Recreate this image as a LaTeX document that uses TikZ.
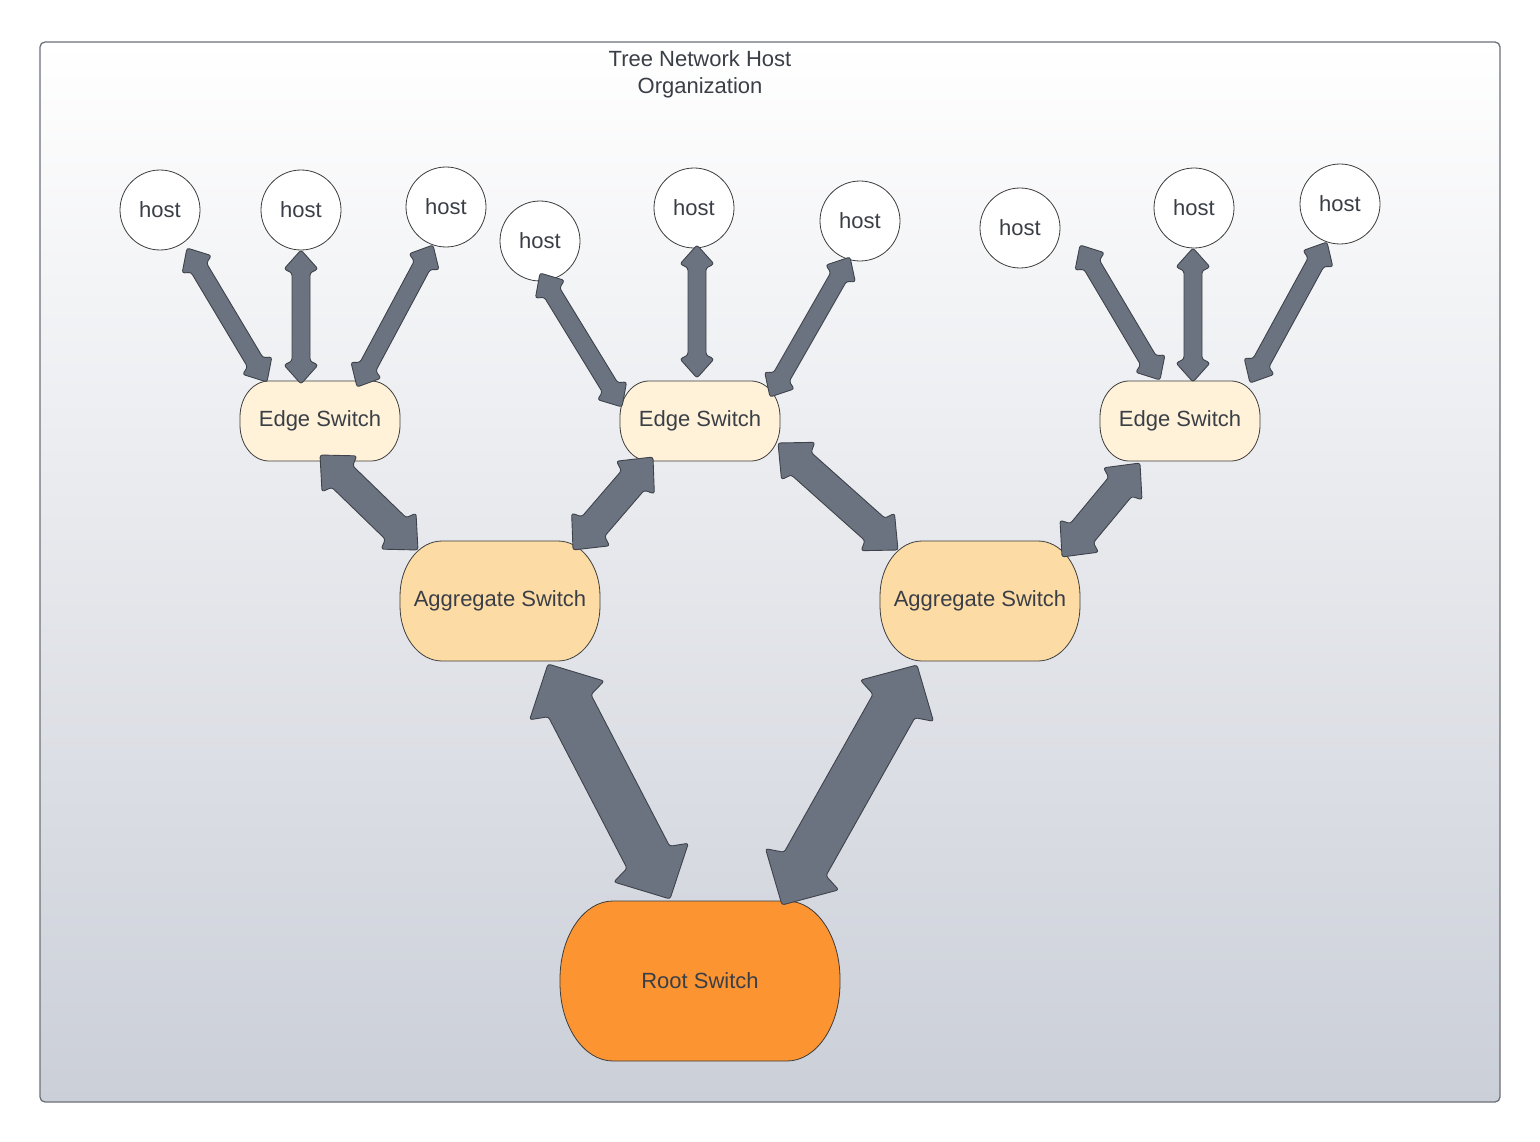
\documentclass[tikz,border=0pt]{standalone}
\usepackage{fontspec}
\setmainfont{Liberation Sans}
\usetikzlibrary{calc,backgrounds}
\definecolor{txt}{HTML}{3A3F47}
\definecolor{edgefill}{HTML}{FFF2D9}
\definecolor{aggfill}{HTML}{FDDBA4}
\definecolor{rootfill}{HTML}{FC9432}
\definecolor{arrfill}{HTML}{6C7380}
\definecolor{arrline}{HTML}{3E434B}
\definecolor{nodeline}{HTML}{3D3D3D}
\definecolor{frameline}{HTML}{6B7079}
\definecolor{bgbottom}{HTML}{CBCFD8}
\newcommand\blockarrow[6]{%
  \draw[barrow] (#1)
   -- ($(#1)!#5!(#2)!#3!90:(#2)$)
   -- ($(#1)!#6!(#2)!#4!90:(#2)$)
   -- ($(#2)!#6!(#1)!#4!-90:(#1)$)
   -- ($(#2)!#5!(#1)!#3!-90:(#1)$)
   -- (#2)
   -- ($(#2)!#5!(#1)!#3!90:(#1)$)
   -- ($(#2)!#6!(#1)!#4!90:(#1)$)
   -- ($(#1)!#6!(#2)!#4!-90:(#2)$)
   -- ($(#1)!#5!(#2)!#3!-90:(#2)$)
   -- cycle;}
% box with elliptical corners around node #1: x radius #2, y radius #3, style #4
\newcommand\ellbox[4]{%
  \draw[#4] ($(#1.north west)+(#2,0)$) -- ($(#1.north east)+(-#2,0)$)
    arc[start angle=-90,end angle=0,x radius=#2,y radius=#3]
    -- ($(#1.south east)+(0,-#3)$)
    arc[start angle=0,end angle=90,x radius=#2,y radius=#3]
    -- ($(#1.south west)+(#2,0)$)
    arc[start angle=90,end angle=180,x radius=#2,y radius=#3]
    -- ($(#1.north west)+(0,#3)$)
    arc[start angle=180,end angle=270,x radius=#2,y radius=#3]
    -- cycle;}
\begin{document}
\begin{tikzpicture}[x=1pt,y=-1pt,
  lbl/.style={font=\fontsize{22}{27}\selectfont, text=txt},
  host/.style={lbl, circle, draw=nodeline, line width=0.8pt, fill=white, minimum size=80pt, inner sep=0pt, outer sep=0pt},
  switchbox/.style={lbl, rectangle, inner sep=0pt, outer sep=0pt},
  edgesw/.style={switchbox, minimum width=160pt, minimum height=80pt},
  aggsw/.style={switchbox, minimum width=200pt, minimum height=120pt},
  rootsw/.style={switchbox, minimum width=280pt, minimum height=160pt},
  boxline/.style={draw=nodeline, line width=0.8pt},
  barrow/.style={fill=arrfill, draw=arrline, line width=0.9pt, rounded corners=2.5pt, line join=round}]
\useasboundingbox (0,0) rectangle (1540,1142);
\begin{scope}[on background layer]
\fill[white] (0,0) rectangle (1540,1142);
\draw[frameline, line width=1.3pt, top color=white, bottom color=bgbottom, rounded corners=5pt] (40,42) rectangle (1500,1102);
\end{scope}
\node[lbl, align=center] (title) at (700,74) {Tree Network Host\\Organization};
% hosts
\node[host] (h1) at (160,210) {host};
\node[host] (h2) at (301,210) {host};
\node[host] (h3) at (446,207) {host};
\node[host] (h4) at (540,241) {host};
\node[host] (h5) at (694,208) {host};
\node[host] (h6) at (860,221) {host};
\node[host] (h7) at (1020,228) {host};
\node[host] (h8) at (1194,208) {host};
\node[host] (h9) at (1340,204) {host};
% switches
\node[edgesw] (e1) at (320,421) {Edge Switch};
\node[edgesw] (e2) at (700,421) {Edge Switch};
\node[edgesw] (e3) at (1180,421) {Edge Switch};
\node[aggsw] (g1) at (500,601) {Aggregate Switch};
\node[aggsw] (g2) at (980,601) {Aggregate Switch};
\node[rootsw] (r) at (700,981) {Root Switch};
\begin{scope}[on background layer]
\ellbox{e1}{29}{36}{boxline, fill=edgefill}
\ellbox{e2}{29}{36}{boxline, fill=edgefill}
\ellbox{e3}{29}{36}{boxline, fill=edgefill}
\ellbox{g1}{42}{55}{boxline, fill=aggfill}
\ellbox{g2}{42}{55}{boxline, fill=aggfill}
\ellbox{r}{53}{78}{boxline, fill=rootfill}
\end{scope}
% arrow end points
\coordinate (a1s) at ($(h1)+(27,38)$);   \coordinate (a1e) at ($(e1)+(-53,-39)$);
\coordinate (a2s) at ($(h2)+(0,40)$);    \coordinate (a2e) at ($(e1)+(-19,-37)$);
\coordinate (a3s) at ($(h3)+(-13,38)$);  \coordinate (a3e) at ($(e1)+(37,-34)$);
\coordinate (a4s) at ($(h4)+(0,32)$);    \coordinate (a4e) at ($(e2)+(-78,-14)$);
\coordinate (a5s) at ($(h5)+(3,37)$);    \coordinate (a5e) at ($(e2)+(-3,-43)$);
\coordinate (a6s) at ($(h6)+(-10,36)$);  \coordinate (a6e) at ($(e2)+(70,-24)$);
\coordinate (a7s) at ($(e3)+(-100,-176)$); \coordinate (a7e) at ($(e3)+(-20,-41)$);
\coordinate (a8s) at ($(h8)+(-1,40)$);   \coordinate (a8e) at ($(e3)+(13,-39)$);
\coordinate (a9s) at ($(h9)+(-13,38)$);  \coordinate (a9e) at ($(e3)+(70,-38)$);
\coordinate (b1s) at ($(e1)+(0,34)$);    \coordinate (b1e) at ($(g1)+(-82,-51)$);
\coordinate (b2s) at ($(e2)+(-47,36)$);  \coordinate (b2e) at ($(g1)+(73,-51)$);
\coordinate (b3s) at ($(e2)+(78,22)$);   \coordinate (b3e) at ($(g2)+(-82,-51)$);
\coordinate (b4s) at ($(e3)+(-40,42)$);  \coordinate (b4e) at ($(g2)+(82,-44)$);
\coordinate (c1s) at ($(g1)+(48,63)$);   \coordinate (c1e) at ($(r)+(-30,-82)$);
\coordinate (c2s) at ($(g2)+(-63,64)$);  \coordinate (c2e) at ($(r)+(82,-76)$);
% host arrows
\blockarrow{a1s}{a1e}{17pt}{9pt}{19pt}{23pt}
\blockarrow{a2s}{a2e}{17pt}{9pt}{19pt}{23pt}
\blockarrow{a3s}{a3e}{17pt}{9pt}{19pt}{23pt}
\blockarrow{a4s}{a4e}{17pt}{9pt}{19pt}{23pt}
\blockarrow{a5s}{a5e}{17pt}{9pt}{19pt}{23pt}
\blockarrow{a6s}{a6e}{17pt}{9pt}{19pt}{23pt}
\blockarrow{a7s}{a7e}{17pt}{9pt}{19pt}{23pt}
\blockarrow{a8s}{a8e}{17pt}{9pt}{19pt}{23pt}
\blockarrow{a9s}{a9e}{17pt}{9pt}{19pt}{23pt}
% edge-aggregate arrows
\blockarrow{b1s}{b1e}{25pt}{15pt}{27pt}{31pt}
\blockarrow{b2s}{b2e}{25pt}{15pt}{27pt}{31pt}
\blockarrow{b3s}{b3e}{25pt}{15pt}{27pt}{31pt}
\blockarrow{b4s}{b4e}{25pt}{15pt}{27pt}{31pt}
% aggregate-root arrows
\blockarrow{c1s}{c1e}{42pt}{24pt}{41pt}{47pt}
\blockarrow{c2s}{c2e}{42pt}{24pt}{41pt}{47pt}
\end{tikzpicture}
\end{document}
